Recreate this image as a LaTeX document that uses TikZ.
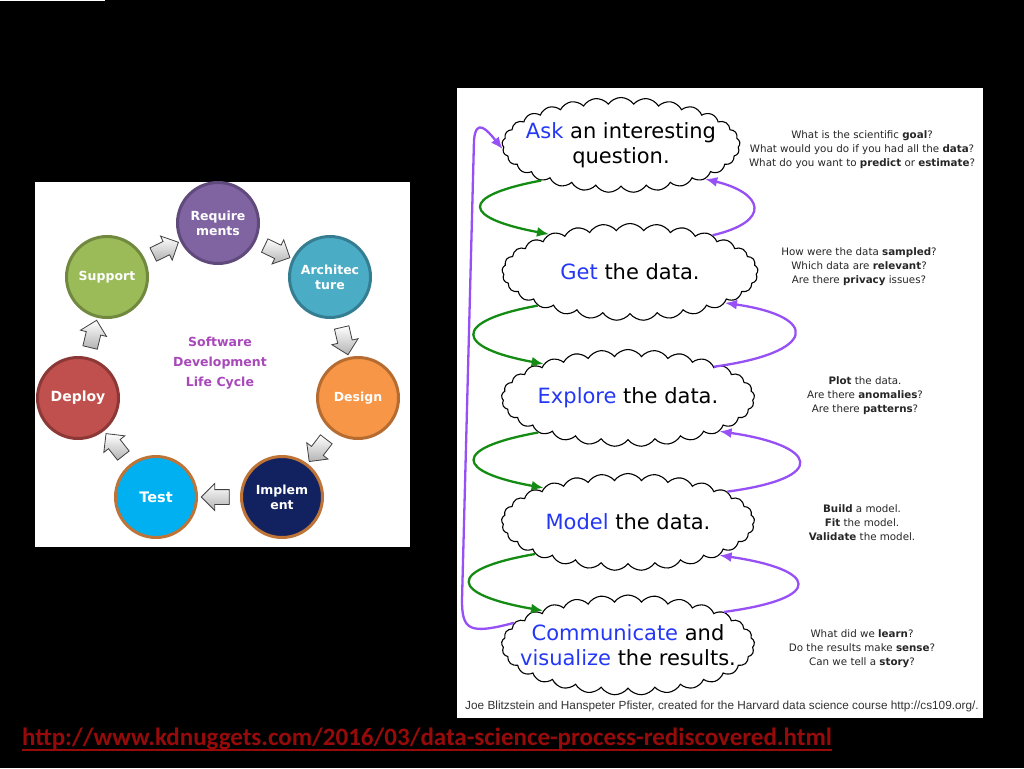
\documentclass[tikz,border=0pt]{standalone}
\usepackage{fontspec}
\usepackage{tikz}
\usetikzlibrary{positioning,shapes.symbols,shapes.arrows,arrows.meta}
\setmainfont{DejaVu Sans}
\newfontfamily\footFont{Liberation Sans}
\newfontfamily\linkFont{Carlito}
\tikzstyle{slide} = [x = 1pt, y = -1pt]
\definecolor{reqFill}{RGB}{128,100,162}
\definecolor{reqEdge}{RGB}{96,74,123}
\definecolor{archFill}{RGB}{75,172,198}
\definecolor{archEdge}{RGB}{53,126,146}
\definecolor{designFill}{RGB}{247,150,70}
\definecolor{designEdge}{RGB}{182,108,48}
\definecolor{implFill}{RGB}{18,34,96}
\definecolor{testFill}{RGB}{0,176,240}
\definecolor{orangeEdge}{RGB}{190,115,55}
\definecolor{deployFill}{RGB}{192,80,77}
\definecolor{deployEdge}{RGB}{140,56,54}
\definecolor{supportFill}{RGB}{155,187,89}
\definecolor{supportEdge}{RGB}{113,137,63}
\definecolor{titlePurple}{RGB}{168,72,186}
\definecolor{stepBlue}{RGB}{35,55,245}
\definecolor{forwardGreen}{RGB}{20,140,20}
\definecolor{backPurple}{RGB}{150,80,245}
\definecolor{linkRed}{RGB}{150,10,10}
\tikzstyle{phaseCircle} = [circle, minimum size = 81pt, line width = 3pt, text = white, align = center, font = \bfseries\fontsize{12.5}{15}\selectfont]
\tikzstyle{blockArrow} = [single arrow, draw = black!75, thick, top color = white, bottom color = black!30, minimum height = 28pt, inner sep = 0pt, inner ysep = 7pt, single arrow head extend = 6pt, sloped, allow upside down]
\tikzstyle{cloudStep} = [cloud, draw, line width = 1.1pt, fill = white, cloud puffs = 29, cloud puff arc = 110, cloud ignores aspect, inner sep = 0pt]
\tikzstyle{stepText} = [align = center, inner sep = 0pt, font = \fontsize{21}{25}\selectfont]
\tikzstyle{noteText} = [align = center, text = black!85, font = \fontsize{10.3}{14}\selectfont]
\tikzstyle{loopForward} = [draw = forwardGreen, line width = 2.3pt, -{Latex[length = 12pt, width = 10pt]}]
\tikzstyle{loopBack} = [draw = backPurple, line width = 2.3pt, -{Latex[length = 12pt, width = 10pt]}]
\newcommand{\phase}[5]{\node [phaseCircle, fill = #4, draw = #5] (#1) at (#2) {#3};}
\newcommand{\phaseArrow}[2]{\path (#1) -- node [blockArrow] (#1To#2) {} (#2);}
\newcommand{\dataStep}[5]{\node [cloudStep, minimum width = #3, minimum height = #4] (#1) at (#2) {};
  \node [stepText] (#1Text) at (#1) {#5};}
\newcommand{\stepWord}[1]{\textcolor{stepBlue}{#1}}
\newcommand{\forwardLoop}[3]{\draw [loopForward] (#1) .. controls +(-#3,16) and +(-#3,-16) .. (#2);}
\newcommand{\backLoop}[4]{\draw [loopBack] (#1) .. controls +(#3,-14) and +(#4,14) .. (#2);}

\begin{document}
\begin{tikzpicture}[slide]
  \fill [black] (0,0) rectangle (1024,768);
  \useasboundingbox (0,0) rectangle (1024,768);
  \fill [white] (0,0) rectangle (105,1.5);
  % software life cycle
  \fill [white] (35,182) rectangle (410,547);
  \phase{req}{218,223}{Require\\ments}{reqFill}{reqEdge}
  \phase{arch}{330,277}{Architec\\ture}{archFill}{archEdge}
  \phase{design}{358,398}{Design}{designFill}{designEdge}
  \phase{impl}{282,497}{Implem\\ent}{implFill}{orangeEdge}
  \phase{test}{156,497}{\fontsize{14.5}{18}\selectfont Test}{testFill}{orangeEdge}
  \phase{deploy}{78,398}{\fontsize{14}{18}\selectfont Deploy}{deployFill}{deployEdge}
  \phase{support}{107,277}{Support}{supportFill}{supportEdge}
  \phaseArrow{req}{arch}\phaseArrow{arch}{design}\phaseArrow{design}{impl}\phaseArrow{impl}{test}
  \phaseArrow{test}{deploy}\phaseArrow{deploy}{support}\phaseArrow{support}{req}
  \node [align = center, text = titlePurple, font = \bfseries\fontsize{12.5}{20}\selectfont] (sdlc) at (220,363) {Software\\Development\\Life Cycle};
  % data science process
  \fill [white] (457,88) rectangle (983,718);
  \dataStep{ask}{621,145}{238pt}{95pt}{\stepWord{Ask} an interesting\\question.}
  \dataStep{get}{630,272}{256pt}{97pt}{\stepWord{Get} the data.}
  \dataStep{explore}{628,398}{253pt}{97pt}{\stepWord{Explore} the data.}
  \dataStep{model}{628,522}{253pt}{97pt}{\stepWord{Model} the data.}
  \dataStep{communicate}{628,645}{253pt}{100pt}{\stepWord{Communicate} and\\\stepWord{visualize} the results.}
  \forwardLoop{ask.204}{get.155}{85}\forwardLoop{get.200}{explore.158}{88}
  \forwardLoop{explore.201}{model.158}{88}\forwardLoop{model.199}{communicate.158}{92}
  \backLoop{get.24}{ask.338}{60}{58}\backLoop{explore.20}{get.342}{103}{96}
  \backLoop{model.17}{explore.340}{104}{97}\backLoop{communicate.19}{model.340}{104}{97}
  \coordinate (backLow) at (462,600);
  \coordinate (backHigh) at (474,140);
  \draw [loopBack] (communicate.169) .. controls +(-45,12) and +(0,30) .. (backLow) -- (backHigh) .. controls +(2,-22) and +(-16,-20) .. (ask.182);
  \node [noteText] (goalNote) at (862,150) {What is the scientific \textbf{goal}?\\What would you do if you had all the \textbf{data}?\\What do you want to \textbf{predict} or \textbf{estimate}?};
  \node [noteText] (sampleNote) at (859,267) {How were the data \textbf{sampled}?\\Which data are \textbf{relevant}?\\Are there \textbf{privacy} issues?};
  \node [noteText] (plotNote) at (865,396) {\textbf{Plot} the data.\\Are there \textbf{anomalies}?\\Are there \textbf{patterns}?};
  \node [noteText] (fitNote) at (862,523) {\textbf{Build} a model.\\\textbf{Fit} the model.\\\textbf{Validate} the model.};
  \node [noteText] (storyNote) at (862,649) {What did we \textbf{learn}?\\Do the results make \textbf{sense}?\\Can we tell a \textbf{story}?};
  \node [text = black!80, font = \footFont\fontsize{11.8}{14}\selectfont] (credit) at (722,706) {Joe Blitzstein and Hanspeter Pfister, created for the Harvard data science course http://cs109.org/.};
  % source link
  \node [anchor = base west, inner sep = 0pt, text = linkRed, font = \linkFont\bfseries\fontsize{25}{28}\selectfont] (link) at (22,745) {http://www.kdnuggets.com/2016/03/data-science-process-rediscovered.html};
  \draw [linkRed, line width = 2pt] ([yshift = -5pt]link.base west) -- ([yshift = -5pt]link.base east);
\end{tikzpicture}
\end{document}
